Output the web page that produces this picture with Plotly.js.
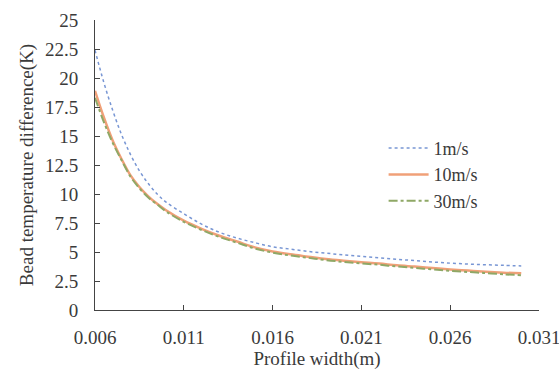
<!DOCTYPE html>
<html>
<head>
<meta charset="utf-8">
<script src="https://cdn.plot.ly/plotly-3.0.1.min.js"></script>
<style>html,body{margin:0;padding:0;background:#fff;}#chart{width:559px;height:376px;}</style>
</head>
<body>
<div id="chart"></div>
<script>
const widths = [0.006,0.0065,0.007,0.0075,0.008,0.0085,0.009,0.0095,0.010,0.011,0.012,0.013,0.014,0.015,0.016,0.017,0.018,0.019,0.020,0.021,0.022,0.023,0.024,0.025,0.026,0.027,0.028,0.029,0.030];
const v1 = [22.4,19.6,17.2,15.1,13.4,12.0,10.9,10.0,9.3,8.3,7.4,6.7,6.2,5.8,5.45,5.25,5.05,4.9,4.75,4.62,4.5,4.37,4.26,4.14,4.04,3.96,3.9,3.85,3.8];
const v10 = [18.9,16.6,14.6,13.0,11.6,10.6,9.8,9.15,8.6,7.7,7.0,6.4,5.9,5.4,5.05,4.8,4.6,4.4,4.25,4.12,4.0,3.85,3.74,3.62,3.5,3.4,3.3,3.22,3.16];
const v30 = [18.3,16.2,14.4,12.9,11.5,10.5,9.7,9.1,8.5,7.6,6.9,6.3,5.8,5.3,4.95,4.7,4.5,4.3,4.15,4.02,3.9,3.75,3.63,3.5,3.38,3.28,3.18,3.08,3.0];
const names = ["1m/s","10m/s","30m/s"];
const tickVals = [0.006,0.011,0.016,0.021,0.026,0.031];
const tickText = ["0.006","0.011","0.016","0.021","0.026","0.031"];
const yTickVals = [0,2.5,5,7.5,10,12.5,15,17.5,20,22.5,25];
const yTickText = ["0","2.5","5","7.5","10","12.5","15","17.5","20","22.5","25"];

const font = {family: "Liberation Serif, Times New Roman, serif", size: 19, color: "#3a3a3a"};
const traces = [
  {x: widths, y: v1, name: names[0], mode: "lines", line: {color: "#7896d4", width: 1.5, dash: "dot", shape: "spline"}},
  {x: widths, y: v10, name: names[1], mode: "lines", line: {color: "#f0a078", width: 2.5, shape: "spline"}},
  {x: widths, y: v30, name: names[2], mode: "lines", line: {color: "#8fa866", width: 2, dash: "dashdot", shape: "spline"}}
];
const layout = {
  width: 559, height: 376,
  margin: {l: 95, r: 20, t: 20, b: 66},
  paper_bgcolor: "#fff", plot_bgcolor: "#fff",
  font: font,
  showlegend: true,
  legend: {x: 0.65, y: 0.466, xanchor: "left", yanchor: "middle", bgcolor: "rgba(0,0,0,0)", font: Object.assign({}, font, {size: 18}), tracegroupgap: 0, itemwidth: 40},
  xaxis: {
    range: [0.006, 0.031], tickvals: tickVals, ticktext: tickText,
    showline: true, linecolor: "#444", linewidth: 1, ticks: "inside", ticklen: 5, tickcolor: "#444",
    showgrid: false, zeroline: false, tickfont: font, ticklabelstandoff: 10, ticklabeloverflow: "allow",
    title: {text: "Profile width(m)", font: font, standoff: 2}
  },
  yaxis: {
    range: [0, 25], tickvals: yTickVals, ticktext: yTickText,
    showline: true, linecolor: "#444", linewidth: 1, ticks: "inside", ticklen: 5, tickcolor: "#444",
    showgrid: false, zeroline: false, tickfont: font, ticklabelstandoff: 12, ticklabeloverflow: "allow",
    title: {text: "Bead temperature difference(K)", font: font, standoff: 6}
  }
};
Plotly.newPlot("chart", traces, layout, {displayModeBar: false, staticPlot: true});
</script>
</body>
</html>
